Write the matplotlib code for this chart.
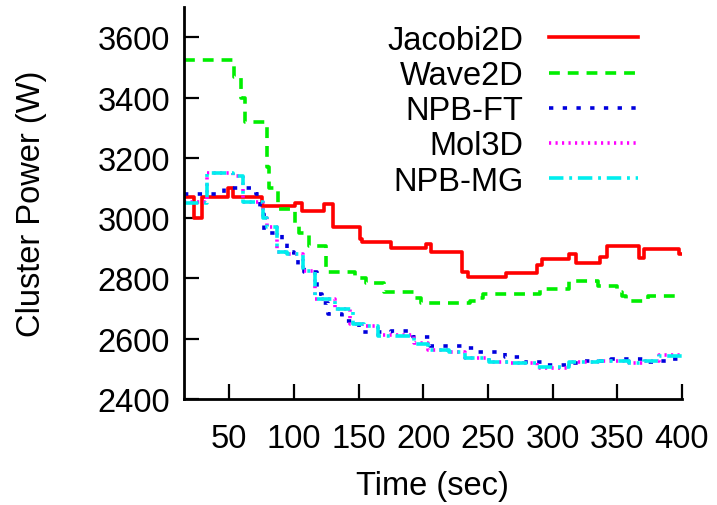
import matplotlib
matplotlib.use("Agg")
import matplotlib.pyplot as plt

plt.rcParams["font.family"] = ["Liberation Sans", "DejaVu Sans"]

# Step series (time in sec, power in W)
jacobi_t = [15, 23, 29, 49, 53, 75, 101, 106, 123, 130, 151, 153, 175, 202, 206, 230, 235, 264, 288, 292, 313, 318, 337, 342, 367, 371, 398, 400]
jacobi_p = [3070, 3000, 3070, 3100, 3070, 3040, 3050, 3025, 3047, 2970, 2930, 2920, 2900, 2915, 2888, 2820, 2805, 2818, 2843, 2865, 2880, 2850, 2870, 2907, 2867, 2897, 2880, 2880]

wave_t = [15, 54, 59, 62, 79, 81, 88, 101, 104, 112, 125, 131, 147, 156, 170, 193, 198, 236, 241, 246, 290, 313, 335, 350, 354, 357, 374, 400]
wave_p = [3525, 3468, 3400, 3320, 3170, 3100, 3030, 2980, 2950, 2908, 2822, 2822, 2800, 2785, 2755, 2735, 2718, 2725, 2735, 2748, 2765, 2790, 2775, 2755, 2740, 2725, 2740, 2740]

ft_t = [15, 46, 71, 74, 77, 81, 91, 95, 100, 103, 108, 118, 122, 126, 137, 150, 175, 192, 205, 232, 240, 246, 263, 278, 295, 312, 321, 345, 371, 380, 388, 400]
ft_p = [3080, 3100, 3080, 3013, 2950, 2950, 2924, 2887, 2870, 2838, 2820, 2748, 2720, 2682, 2660, 2622, 2625, 2605, 2577, 2570, 2556, 2556, 2540, 2523, 2513, 2520, 2527, 2533, 2523, 2527, 2533, 2533]

mol_t = [15, 31, 33, 53, 61, 76, 79, 87, 95, 107, 116, 132, 143, 154, 165, 193, 204, 220, 232, 251, 267, 288, 313, 335, 359, 371, 382, 400]
mol_p = [3055, 3055, 3150, 3140, 3055, 3000, 2970, 2887, 2880, 2825, 2732, 2700, 2650, 2643, 2612, 2585, 2563, 2557, 2536, 2523, 2520, 2503, 2523, 2526, 2520, 2527, 2545, 2545]

mg_t = [15, 31, 33, 53, 61, 76, 79, 87, 95, 107, 116, 132, 146, 154, 165, 193, 204, 220, 232, 251, 267, 288, 313, 335, 359, 371, 382, 400]
mg_p = [3050, 3050, 3150, 3140, 3055, 3000, 2970, 2887, 2880, 2825, 2732, 2700, 2650, 2643, 2610, 2583, 2563, 2557, 2536, 2523, 2518, 2506, 2523, 2526, 2520, 2527, 2543, 2543]

x_ticks = [50, 100, 150, 200, 250, 300, 350, 400]
y_ticks = [2400, 2600, 2800, 3000, 3200, 3400, 3600]

fig = plt.figure(figsize=(7.17, 5.06), dpi=100)
ax = fig.add_axes([0.2566, 0.2095, 0.6944, 0.7745])

lw = 2.6
ax.plot(jacobi_t, jacobi_p, drawstyle="steps-post", color="#ff0000", lw=lw, label="Jacobi2D")
ax.plot(wave_t, wave_p, drawstyle="steps-post", color="#00ee00", lw=lw, dashes=(3, 2.2), label="Wave2D")
ax.plot(ft_t, ft_p, drawstyle="steps-post", color="#0000dd", lw=lw, dashes=(1.2, 2.6), label="NPB-FT")
ax.plot(mol_t, mol_p, drawstyle="steps-post", color="#ff00ff", lw=lw, dashes=(0.6, 1.2), label="Mol3D")
ax.plot(mg_t, mg_p, drawstyle="steps-post", color="#00eeee", lw=lw, dashes=(4, 1.6, 0.8, 1.6), label="NPB-MG")

fs = 23.5
ax.set_xlim(15, 400)
ax.set_ylim(2400, 3700)
ax.set_xticks(x_ticks)
ax.set_yticks(y_ticks)
ax.tick_params(direction="in", length=11, width=1.6, labelsize=fs)
ax.tick_params(axis="x", pad=17)
ax.tick_params(axis="y", pad=10)
ax.spines["top"].set_visible(False)
ax.spines["right"].set_visible(False)
for s in ("left", "bottom"):
    ax.spines[s].set_linewidth(2)

ax.set_xlabel("Time (sec)", fontsize=fs, labelpad=12)
ax.set_ylabel("Cluster Power (W)", fontsize=fs, labelpad=36)

ax.legend(loc="upper right", bbox_to_anchor=(0.97, 1.03), frameon=False, fontsize=fs,
          markerfirst=False, handlelength=2.7, handletextpad=0.8, labelspacing=0.13)

fig.savefig("out.png", dpi=100)
